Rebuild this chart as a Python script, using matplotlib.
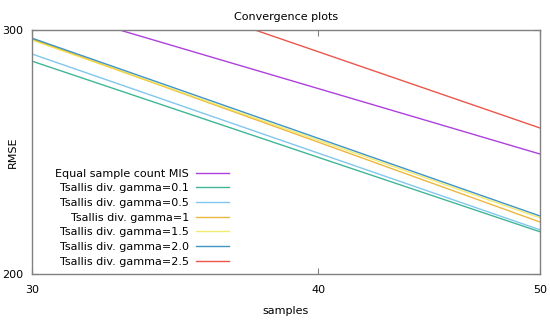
import numpy as np
import matplotlib.pyplot as plt

# samples and RMSE values
samples = [30, 40, 50]
equal_mis = [313.2, 272.2, 244.1]
gamma_01 = [284.9, 242.8, 214.5]
gamma_05 = [288.3, 244.5, 215.2]
gamma_1 = [295.5, 249.0, 218.0]
gamma_15 = [295.0, 249.8, 219.5]
gamma_20 = [296.0, 250.6, 220.2]
gamma_25 = [340.8, 289.4, 254.9]

labels = ['Equal sample count MIS', 'Tsallis div. gamma=0.1', 'Tsallis div. gamma=0.5',
          'Tsallis div. gamma=1', 'Tsallis div. gamma=1.5', 'Tsallis div. gamma=2.0',
          'Tsallis div. gamma=2.5']
series = [equal_mis, gamma_01, gamma_05, gamma_1, gamma_15, gamma_20, gamma_25]
colors = ['#9400d3', '#009e73', '#56b4e9', '#e69f00', '#f0e442', '#0072b2', '#e51e10']

plt.rcParams['font.family'] = ['DejaVu Sans']
plt.rcParams['font.size'] = 8

fig = plt.figure(figsize=(5.5, 3.23), dpi=100)
ax = fig.add_axes([0.058, 0.152, 0.924, 0.755])

for vals, lab, col in zip(series, labels, colors):
    ax.plot(samples, vals, color=col, lw=1.0, alpha=0.75, label=lab)

ax.set_xscale('log')
ax.set_yscale('log')
ax.set_xlim(30, 50)
ax.set_ylim(200, 300)
ax.set_xticks([30, 40, 50])
ax.set_xticklabels(['30', '40', '50'])
ax.set_yticks([200, 300])
ax.set_yticklabels(['200', '300'])
ax.minorticks_off()
ax.tick_params(direction='in', length=4, width=0.8, color='#808080', top=True, right=True)
ax.tick_params(axis='x', pad=8)
ax.tick_params(axis='y', pad=6)

for sp in ax.spines.values():
    sp.set_color('#808080')
    sp.set_linewidth(1.0)

ax.set_title('Convergence plots', fontsize=8, pad=7)
ax.set_xlabel('samples', labelpad=8)
ax.set_ylabel('RMSE')
ax.yaxis.set_label_coords(-0.028, 0.5)

ax.legend(loc='lower right', frameon=False, markerfirst=False, handlelength=3.0,
          labelspacing=0.42, handletextpad=0.6, borderaxespad=0.0,
          bbox_to_anchor=(0.397, 0.012))

fig.savefig('out.png', dpi=100)
